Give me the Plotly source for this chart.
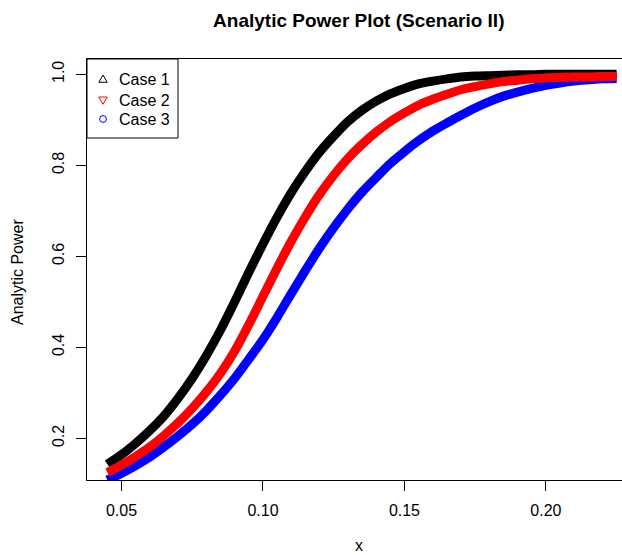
import plotly.graph_objects as go

# Effect size grid and analytic power for the three cases
effect = [0.045, 0.050, 0.055, 0.060, 0.065, 0.070, 0.075, 0.080, 0.085, 0.090,
          0.095, 0.100, 0.105, 0.110, 0.115, 0.120, 0.125, 0.130, 0.135, 0.140,
          0.145, 0.150, 0.155, 0.160, 0.165, 0.170, 0.175, 0.180, 0.185, 0.190,
          0.195, 0.200, 0.205, 0.210, 0.215, 0.220, 0.225]

power_case1 = [0.143, 0.164, 0.189, 0.217, 0.249, 0.288, 0.332, 0.382, 0.438, 0.500,
               0.565, 0.627, 0.686, 0.740, 0.787, 0.829, 0.864, 0.896, 0.921, 0.941,
               0.957, 0.969, 0.979, 0.985, 0.990, 0.994, 0.996, 0.997, 0.998, 0.999,
               0.999, 1.000, 1.000, 1.000, 1.000, 1.000, 1.000]

power_case2 = [0.125, 0.141, 0.160, 0.181, 0.206, 0.234, 0.266, 0.302, 0.343, 0.392,
               0.450, 0.512, 0.574, 0.633, 0.687, 0.736, 0.778, 0.815, 0.846, 0.873,
               0.896, 0.915, 0.932, 0.945, 0.956, 0.966, 0.973, 0.979, 0.984, 0.987,
               0.990, 0.992, 0.993, 0.994, 0.994, 0.995, 0.995]

power_case3 = [0.108, 0.123, 0.140, 0.159, 0.181, 0.205, 0.231, 0.261, 0.295, 0.332,
               0.374, 0.417, 0.466, 0.518, 0.569, 0.618, 0.663, 0.704, 0.741, 0.773,
               0.804, 0.830, 0.854, 0.875, 0.893, 0.910, 0.926, 0.940, 0.952, 0.961,
               0.969, 0.976, 0.981, 0.985, 0.988, 0.990, 0.991]

case_names = ["Case 1", "Case 2", "Case 3"]
case_colors = ["black", "red", "blue"]

x_ticks = [0.05, 0.10, 0.15, 0.20]
y_ticks = [0.2, 0.4, 0.6, 0.8, 1.0]

FONT = "Liberation Sans, Arial, Helvetica, sans-serif"

# plot area geometry (pixels) used for placing the legend box in paper units
PLOT_W, PLOT_H = 535, 421

fig = go.Figure()

# Thick bands for each power curve (black, then blue, then red on top)
series = [power_case1, power_case2, power_case3]
for idx in [0, 2, 1]:
    fig.add_trace(go.Scatter(
        x=effect, y=series[idx], mode="lines", name=case_names[idx],
        line=dict(color=case_colors[idx], width=9, shape="spline", smoothing=0.8),
        showlegend=False, hoverinfo="skip",
    ))

# Hand-built legend: bordered box, open symbol keys and labels
legend_shapes = [dict(type="rect", xref="paper", yref="paper",
                      x0=0, x1=91 / PLOT_W, y0=1 - 79 / PLOT_H, y1=1,
                      line=dict(color="black", width=1), fillcolor="white",
                      layer="above")]
key_x = 16 / PLOT_W
text_x = 30 / PLOT_W
row_y = [1 - 20.3 / PLOT_H, 1 - 41 / PLOT_H, 1 - 60 / PLOT_H]
key_paths = ["M -4.2,-3 L 4.2,-3 L 0,4.3 Z",
             "M -4.2,3 L 4.2,3 L 0,-4.3 Z",
             None]
legend_annotations = []
for name, col, ry, path in zip(case_names, case_colors, row_y, key_paths):
    if path is not None:
        legend_shapes.append(dict(
            type="path", xref="paper", yref="paper",
            xsizemode="pixel", ysizemode="pixel", xanchor=key_x, yanchor=ry,
            path=path, line=dict(color=col, width=1), layer="above"))
    else:
        legend_shapes.append(dict(
            type="circle", xref="paper", yref="paper",
            xsizemode="pixel", ysizemode="pixel", xanchor=key_x, yanchor=ry,
            x0=-3.4, x1=3.4, y0=-3.4, y1=3.4,
            line=dict(color=col, width=1), layer="above"))
    legend_annotations.append(dict(
        text=name, xref="paper", yref="paper", x=text_x, y=ry,
        xanchor="left", yanchor="middle", showarrow=False,
        font=dict(family=FONT, size=16, color="black")))

fig.update_layout(
    width=622, height=555,
    margin=dict(l=87, r=0, t=59, b=75),
    paper_bgcolor="white", plot_bgcolor="white",
    font=dict(family=FONT, size=16, color="black"),
    title=dict(text="<b>Analytic Power Plot (Scenario II)</b>",
               x=0.508, xref="paper", xanchor="center",
               y=1 - 20 / 555, yanchor="middle",
               font=dict(family=FONT, size=19, color="black")),
    showlegend=False,
    xaxis=dict(range=[0.0378, 0.2269], tickvals=x_ticks,
               ticktext=[f"{v:.2f}" for v in x_ticks],
               ticks="outside", ticklen=10, tickcolor="black", tickwidth=1,
               showline=True, linecolor="black", linewidth=1, mirror=True,
               showgrid=False, zeroline=False, ticklabelstandoff=6),
    yaxis=dict(range=[0.1084, 1.0336], tickvals=y_ticks,
               ticktext=[f"{v:.1f}" for v in y_ticks],
               ticks="outside", ticklen=10, tickcolor="black", tickwidth=1,
               showline=True, linecolor="black", linewidth=1, mirror=False,
               showgrid=False, zeroline=False, tickangle=-90,
               ticklabelstandoff=6),
    shapes=legend_shapes,
    annotations=[
        dict(text="x", xref="paper", yref="paper", x=0.508, y=-65 / PLOT_H,
             xanchor="center", yanchor="middle", showarrow=False,
             font=dict(family=FONT, size=16)),
        dict(text="Analytic Power", xref="paper", yref="paper",
             x=-70 / PLOT_W, y=0.494, xanchor="center", yanchor="middle",
             textangle=-90, showarrow=False, font=dict(family=FONT, size=16)),
    ] + legend_annotations,
)

fig.write_html("out.html")
